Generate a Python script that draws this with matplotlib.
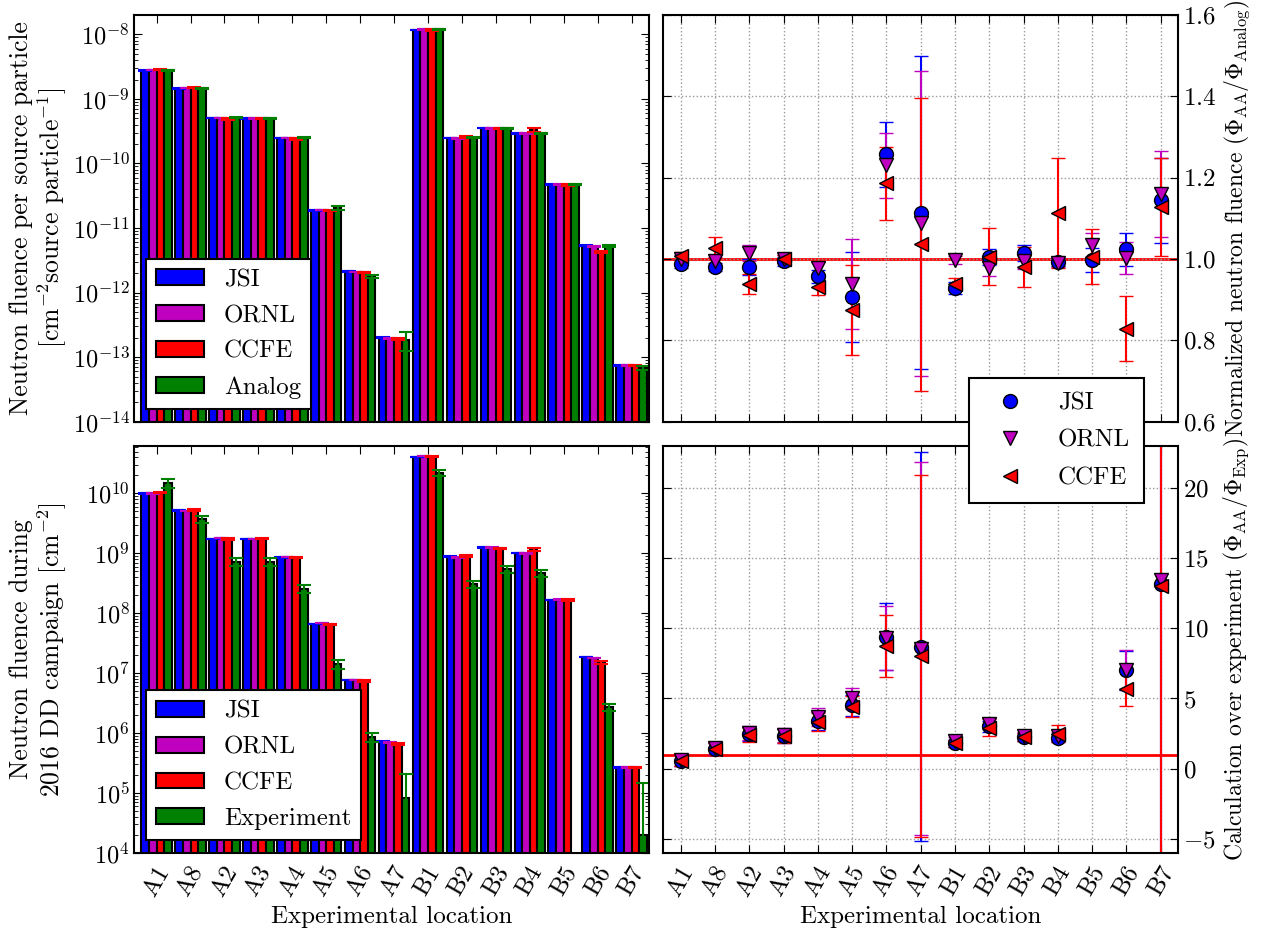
import numpy as np
import matplotlib
matplotlib.use('Agg')
import matplotlib.pyplot as plt

plt.rcParams['font.family'] = 'serif'
plt.rcParams['font.serif'] = ['cmr10', 'DejaVu Serif']
plt.rcParams['mathtext.fontset'] = 'cm'
plt.rcParams['axes.unicode_minus'] = False
plt.rcParams['axes.formatter.use_mathtext'] = True
plt.rcParams['font.size'] = 18

nan = np.nan

# 实验位置
locs = ['A1', 'A8', 'A2', 'A3', 'A4', 'A5', 'A6', 'A7',
        'B1', 'B2', 'B3', 'B4', 'B5', 'B6', 'B7']

# 每个源粒子的中子注量
jsi_sp = [2.75e-9, 1.45e-9, 5.1e-10, 5.0e-10, 2.5e-10, 1.87e-11, 2.14e-12, 2.0e-13,
          1.17e-8, 2.5e-10, 3.57e-10, 2.92e-10, 4.7e-11, 5.36e-12, 7.47e-14]
ornl_sp = [2.8e-9, 1.47e-9, 5.1e-10, 5.0e-10, 2.5e-10, 1.9e-11, 2.1e-12, 1.95e-13,
           1.2e-8, 2.45e-10, 3.5e-10, 2.9e-10, 4.7e-11, 5.2e-12, 7.5e-14]
ccfe_sp = [2.85e-9, 1.5e-9, 4.9e-10, 5.0e-10, 2.4e-10, 1.85e-11, 2.05e-12, 1.9e-13,
           1.17e-8, 2.6e-10, 3.5e-10, 3.29e-10, 4.7e-11, 4.27e-12, 7.4e-14]
analog_sp = [2.8e-9, 1.47e-9, 5.1e-10, 5.0e-10, 2.5e-10, 2.05e-11, 1.79e-12, 1.83e-13,
             1.2e-8, 2.5e-10, 3.5e-10, 2.95e-10, 4.7e-11, 5.3e-12, 6.8e-14]
# 相对误差
jsi_sp_rel = [0.01, 0.01, 0.01, 0.01, 0.01, 0.01, 0.01, 0.02,
              0.01, 0.01, 0.01, 0.01, 0.01, 0.01, 0.02]
ornl_sp_rel = [0.01, 0.01, 0.01, 0.01, 0.01, 0.01, 0.01, 0.02,
               0.01, 0.01, 0.01, 0.01, 0.01, 0.01, 0.02]
ccfe_sp_rel = [0.02, 0.02, 0.03, 0.02, 0.03, 0.02, 0.03, 0.03,
               0.02, 0.04, 0.02, 0.07, 0.03, 0.05, 0.03]
analog_sp_rel = [0.02, 0.02, 0.02, 0.02, 0.02, 0.07, 0.05, 0.33,
                 0.02, 0.02, 0.02, 0.02, 0.02, 0.03, 0.06]

# 2016 DD 实验期间的中子注量
jsi_dd = [1.0e10, 5.2e9, 1.75e9, 1.75e9, 8.6e8, 6.6e7, 7.7e6, 7.1e5,
          4.07e10, 8.8e8, 1.26e9, 1.02e9, 1.67e8, 1.85e7, 2.67e5]
ornl_dd = [1.0e10, 5.1e9, 1.8e9, 1.75e9, 8.7e8, 6.8e7, 7.6e6, 6.9e5,
           4.2e10, 8.6e8, 1.24e9, 1.0e9, 1.68e8, 1.8e7, 2.67e5]
ccfe_dd = [1.02e10, 5.35e9, 1.72e9, 1.75e9, 8.5e8, 6.5e7, 7.4e6, 6.6e5,
           4.07e10, 9.0e8, 1.22e9, 1.16e9, 1.67e8, 1.51e7, 2.67e5]
exp_dd = [1.47e10, 3.7e9, 7.2e8, 7.2e8, 2.54e8, 1.43e7, 8.45e5, 8.3e4,
          2.23e10, 3.04e8, 5.47e8, 4.64e8, nan, 2.67e6, 1.96e4]
exp_dd_err = [2.5e9, 5e8, 1e8, 1e8, 4e7, 2.5e6, 1.4e5, 1.25e5,
              2.5e9, 4e7, 7e7, 6e7, nan, 3.5e5, 1.27e5]
calc_dd_rel = [0.01, 0.01, 0.01, 0.01, 0.01, 0.01, 0.01, 0.02,
               0.01, 0.01, 0.01, 0.01, 0.01, 0.01, 0.02]
ccfe_dd_rel = [0.02, 0.03, 0.03, 0.02, 0.03, 0.03, 0.03, 0.03,
               0.02, 0.04, 0.02, 0.07, 0.03, 0.05, 0.03]

# 归一化 (AA / Analog)
jsi_r = [0.988, 0.980, 0.980, 0.994, 0.957, 0.906, 1.258, 1.114,
         0.928, 1.005, 1.014, 0.992, 0.998, 1.024, 1.144]
jsi_r_err = [0.01, 0.01, 0.02, 0.01, 0.015, 0.11, 0.08, 0.385,
             0.015, 0.02, 0.02, 0.01, 0.03, 0.04, 0.105]
ornl_r = [0.999, 0.996, 1.015, 1.0, 0.977, 0.939, 1.231, 1.088,
          0.998, 0.978, 0.996, 0.99, 1.035, 1.002, 1.160]
ornl_r_err = [0.01, 0.01, 0.02, 0.01, 0.015, 0.11, 0.08, 0.375,
              0.01, 0.02, 0.02, 0.01, 0.03, 0.04, 0.105]
ccfe_r = [1.008, 1.028, 0.939, 1.0, 0.932, 0.875, 1.186, 1.036,
          0.939, 1.006, 0.980, 1.113, 1.006, 0.828, 1.128]
ccfe_r_err = [0.01, 0.025, 0.025, 0.01, 0.02, 0.11, 0.09, 0.36,
              0.015, 0.07, 0.05, 0.135, 0.068, 0.08, 0.12]

# 计算 / 实验 (AA / Exp)
jsi_e = [0.55, 1.4, 2.45, 2.35, 3.4, 4.5, 9.4, 8.7,
         1.8, 3.0, 2.25, 2.2, nan, 7.0, 13.15]
jsi_e_err = [0.4, 0.4, 0.5, 0.5, 0.65, 0.75, 2.4, 13.85,
             0.25, 0.4, 0.3, 0.3, nan, 1.4, 60]
ornl_e = [0.6, 1.45, 2.55, 2.4, 3.7, 5.0, 9.3, 8.55,
          2.0, 3.2, 2.3, 2.3, nan, 7.05, 13.45]
ornl_e_err = [0.4, 0.4, 0.5, 0.5, 0.65, 0.75, 2.3, 13.3,
              0.25, 0.4, 0.3, 0.3, nan, 1.4, 60]
ccfe_e = [0.55, 1.4, 2.4, 2.35, 3.3, 4.4, 8.75, 8.0,
          1.8, 2.9, 2.25, 2.5, nan, 5.7, 13.0]
ccfe_e_err = [0.4, 0.4, 0.5, 0.5, 0.65, 0.75, 2.2, 12.9,
              0.25, 0.6, 0.3, 0.6, nan, 1.25, 60]

x = np.arange(len(locs))
width = 0.225
cols = ['b', 'm', 'r', 'g']

fig = plt.figure(figsize=(12.63, 9.35), dpi=100)
ax1 = fig.add_axes([0.106, 0.549, 0.408, 0.435])
ax3 = fig.add_axes([0.106, 0.088, 0.408, 0.435])
ax2 = fig.add_axes([0.525, 0.549, 0.408, 0.435])
ax4 = fig.add_axes([0.525, 0.088, 0.408, 0.435])


def bar_panel(ax, series, errs, labels):
    for k, (vals, err, col, lab) in enumerate(zip(series, errs, cols, labels)):
        ax.bar(x + (k - 1.5) * width, vals, width, color=col, edgecolor='k',
               linewidth=1.5, label=lab, yerr=err,
               error_kw=dict(ecolor=col, capsize=5, elinewidth=1.5, capthick=1.5))
    ax.set_yscale('log')
    ax.set_xlim(-0.67, 14.52)
    ax.set_xticks(x)
    ax.tick_params(which='both', direction='in', top=True, right=True)
    ax.tick_params(which='major', length=6, labelsize=17.5, pad=3)
    ax.tick_params(axis='x', pad=7, labelsize=18)
    ax.tick_params(which='minor', length=3)
    leg = ax.legend(loc='lower left', fancybox=False, handlelength=1.9,
                    handleheight=0.6, labelspacing=0.55, borderaxespad=0.5,
                    fontsize=18, framealpha=1)
    leg.get_frame().set_edgecolor('k')
    leg.get_frame().set_linewidth(1.5)
    ax.yaxis.set_label_coords(-0.126, 0.5)


sp = [jsi_sp, ornl_sp, ccfe_sp, analog_sp]
sp_rel = [jsi_sp_rel, ornl_sp_rel, ccfe_sp_rel, analog_sp_rel]
bar_panel(ax1, sp, [np.array(v) * np.array(r) for v, r in zip(sp, sp_rel)],
          ['JSI', 'ORNL', 'CCFE', 'Analog'])
ax1.set_ylim(1e-14, 2e-8)
ax1.set_xticklabels([])
ax1.set_ylabel('Neutron fluence per source particle\n[cm$^{-2}$source particle$^{-1}$]',
               fontsize=18.5, linespacing=1.1)

dd_err = [np.array(jsi_dd) * np.array(calc_dd_rel), np.array(ornl_dd) * np.array(calc_dd_rel),
          np.array(ccfe_dd) * np.array(ccfe_dd_rel), exp_dd_err]
bar_panel(ax3, [jsi_dd, ornl_dd, ccfe_dd, exp_dd], dd_err,
          ['JSI', 'ORNL', 'CCFE', 'Experiment'])
ax3.set_ylim(1e4, 6.2e10)
ax3.set_xticklabels(locs, rotation=60, ha='center')
ax3.set_ylabel('Neutron fluence during\n2016 DD campaign [cm$^{-2}$]',
               fontsize=18.5, linespacing=1.1)
ax3.set_xlabel('Experimental location', fontsize=18)


def ratio_panel(ax, data):
    handles = []
    for vals, err, col, mk, lab in data:
        c = ax.errorbar(x, vals, yerr=err, fmt=mk, color=col, mfc=col, mec='k',
                        mew=1, ms=10, capsize=5, elinewidth=1.5, capthick=1.5, label=lab)
        handles.append(c[0])
    ax.set_xlim(-0.52, 14.52)
    ax.set_xticks(x)
    ax.grid(True, ls=':', color='0.6', lw=1)
    ax.yaxis.tick_right()
    ax.yaxis.set_label_position('right')
    ax.tick_params(direction='in', top=True, left=True, right=True, length=6,
                   labelsize=18)
    ax.tick_params(axis='x', pad=7)
    return handles


h = ratio_panel(ax2, [(jsi_r, jsi_r_err, 'b', 'o', 'JSI'),
                      (ornl_r, ornl_r_err, 'm', 'v', 'ORNL'),
                      (ccfe_r, ccfe_r_err, 'r', '<', 'CCFE')])
ax2.axhline(1.0, color='r', lw=2, zorder=1.5)
ax2.set_ylim(0.6, 1.6)
ax2.set_xticklabels([])
ax2.set_ylabel(r'Normalized neutron fluence $(\Phi_{\rm AA}/\Phi_{\rm Analog})$',
               fontsize=17)

ratio_panel(ax4, [(jsi_e, jsi_e_err, 'b', 'o', 'JSI'),
                  (ornl_e, ornl_e_err, 'm', 'v', 'ORNL'),
                  (ccfe_e, ccfe_e_err, 'r', '<', 'CCFE')])
ax4.axhline(1.0, color='r', lw=2, zorder=1.5)
ax4.set_ylim(-6, 23)
ax4.set_yticks([-5, 0, 5, 10, 15, 20])
ax4.set_xticklabels(locs, rotation=60, ha='center')
ax4.set_ylabel(r'Calculation over experiment $(\Phi_{\rm AA}/\Phi_{\rm Exp})$',
               fontsize=17)
ax4.set_xlabel('Experimental location', fontsize=18)

for ax in [ax1, ax2, ax3, ax4]:
    for s in ax.spines.values():
        s.set_linewidth(1.5)

leg = fig.legend(handles=h, labels=['JSI', 'ORNL', 'CCFE'], loc='upper left',
                 bbox_to_anchor=(969 / 1263, 1 - 378 / 935), borderaxespad=0,
                 fancybox=False, numpoints=1, handlelength=2.2, labelspacing=0.6,
                 fontsize=18, borderpad=0.55, framealpha=1)
leg.get_frame().set_edgecolor('k')
leg.get_frame().set_linewidth(1.5)
leg.set_zorder(10)

plt.savefig('out.png', dpi=100)
